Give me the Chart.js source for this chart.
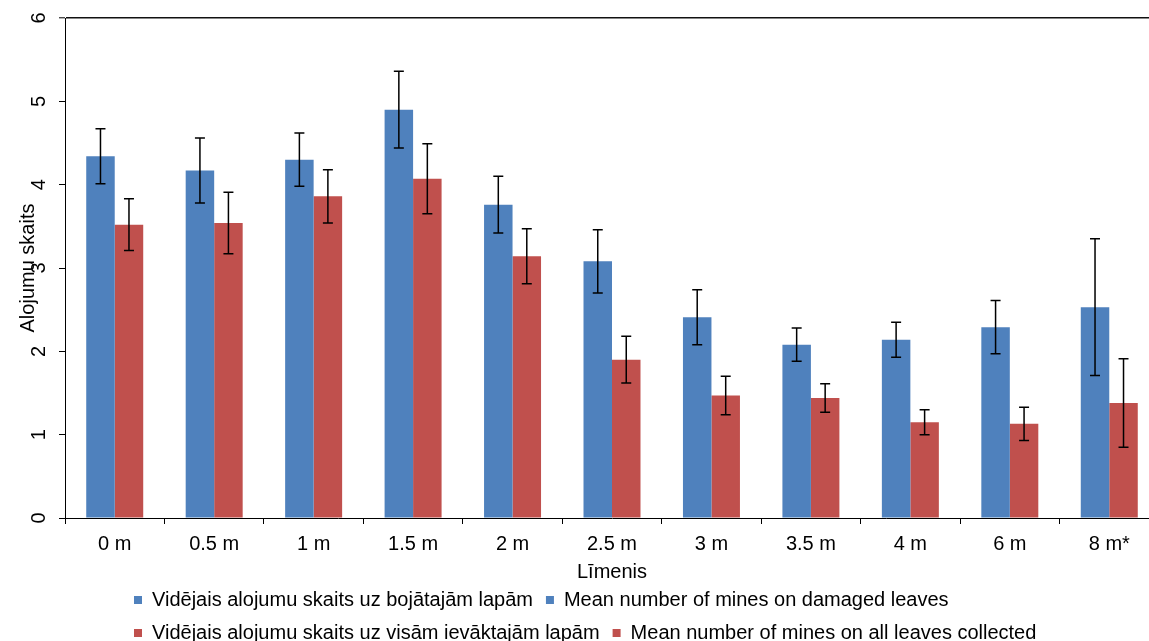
<!DOCTYPE html>
<html><head><meta charset="utf-8">
<script src="https://cdn.jsdelivr.net/npm/chart.js@4.4.1/dist/chart.umd.min.js"></script>
<style>html,body{margin:0;padding:0;background:#fff;overflow:hidden;} #wrap{width:1168px;height:641px;}</style>
</head><body><div id="wrap"><canvas id="c" width="1168" height="641"></canvas></div>
<script>
const categories = ['0 m','0.5 m','1 m','1.5 m','2 m','2.5 m','3 m','3.5 m','4 m','6 m','8 m*'];
const damagedMeans = [4.34,4.17,4.30,4.90,3.76,3.08,2.41,2.08,2.14,2.29,2.53];
const damagedErrors = [0.33,0.39,0.32,0.46,0.34,0.38,0.33,0.20,0.21,0.32,0.82];
const allMeans = [3.52,3.54,3.86,4.07,3.14,1.90,1.47,1.44,1.15,1.13,1.38];
const allErrors = [0.31,0.37,0.32,0.42,0.33,0.28,0.23,0.17,0.15,0.20,0.53];
const seriesLabelsLv = ['Vidējais alojumu skaits uz bojātajām lapām','Vidējais alojumu skaits uz visām ievāktajām lapām'];
const seriesLabelsEn = ['Mean number of mines on damaged leaves','Mean number of mines on all leaves collected'];
const seriesColors = ['#4F81BD','#C0504D'];
const yTicks = [0,1,2,3,4,5,6];
const yTitle = 'Alojumu skaits';
const xTitle = 'Līmenis';

Chart.defaults.font.family = '"Liberation Sans", Arial, sans-serif';
Chart.defaults.color = '#000';

const errorBars = {
  id: 'errorBars',
  afterDatasetsDraw(chart) {
    const ctx = chart.ctx, ys = chart.scales.y;
    ctx.save();
    ctx.strokeStyle = '#000';
    ctx.lineWidth = 1.5;
    chart.data.datasets.forEach((ds, di) => {
      const meta = chart.getDatasetMeta(di);
      meta.data.forEach((bar, i) => {
        const v = ds.data[i], e = ds.errors[i];
        const yt = ys.getPixelForValue(v + e), yb = ys.getPixelForValue(v - e);
        const x = bar.x, hw = 5;
        ctx.beginPath();
        ctx.moveTo(x, yt); ctx.lineTo(x, yb);
        ctx.moveTo(x - hw, yt); ctx.lineTo(x + hw, yt);
        ctx.moveTo(x - hw, yb); ctx.lineTo(x + hw, yb);
        ctx.stroke();
      });
    });
    ctx.restore();
  }
};

const legendPlace = {
  id: 'legendPlace',
  afterLayout(chart) {
    const lg = chart.legend;
    if (!lg) return;
    const w = lg.width, h = lg.height;
    lg.left = 121; lg.right = lg.left + w;
    lg.top = 577; lg.bottom = lg.top + h;
  }
};

new Chart(document.getElementById('c'), {
  type: 'bar',
  data: {
    labels: categories,
    datasets: [
      { label: seriesLabelsLv[0], data: damagedMeans, errors: damagedErrors, backgroundColor: seriesColors[0],
        borderWidth: 0, categoryPercentage: 0.573, barPercentage: 1.0 },
      { label: seriesLabelsLv[1], data: allMeans, errors: allErrors, backgroundColor: seriesColors[1],
        borderWidth: 0, categoryPercentage: 0.573, barPercentage: 1.0 }
    ]
  },
  options: {
    responsive: false,
    animation: false,
    devicePixelRatio: 1,
    layout: { padding: { top: 18, left: 0, right: 9, bottom: 0 } },
    scales: {
      x: {
        grid: { offset: true, drawOnChartArea: false, tickLength: 6, color: '#000', tickColor: '#000', lineWidth: 1 },
        border: { color: '#000', width: 1 },
        ticks: { font: { size: 20 }, color: '#000', padding: 8, maxRotation: 0, autoSkip: false },
        title: { display: true, text: xTitle, font: { size: 20 }, color: '#000', padding: { top: 0, bottom: -19 } },
        afterFit: s => { s.height = 47; s.paddingLeft = 0; s.paddingRight = 0; }
      },
      y: {
        min: 0, max: 6,
        afterBuildTicks: s => { s.ticks = yTicks.map(v => ({ value: v })); },
        grid: {
          color: c => (c.tick && c.tick.value === 6) ? '#111' : 'rgba(0,0,0,0)',
          lineWidth: c => (c.tick && c.tick.value === 6) ? 1.6 : 1,
          tickColor: '#000', tickLength: 6, tickWidth: 1
        },
        border: { color: '#000', width: 1 },
        ticks: { font: { size: 20 }, color: '#000', padding: 14, minRotation: 90, maxRotation: 90, crossAlign: 'center' },
        title: { display: true, text: yTitle, font: { size: 20 }, color: '#000', padding: { top: 16, bottom: 0 } },
        afterFit: s => { s.width = 65; s.paddingTop = 0; s.paddingBottom = 0; }
      }
    },
    plugins: {
      tooltip: { enabled: false },
      legend: {
        position: 'bottom',
        align: 'start',
        labels: {
          boxWidth: 8, boxHeight: 8, padding: 13, font: { size: 20 }, color: '#000',
          generateLabels: chart => {
            const items = [];
            chart.data.datasets.forEach((ds, i) => {
              [seriesLabelsLv[i], seriesLabelsEn[i]].forEach(t => {
                items.push({ text: t, fillStyle: seriesColors[i], strokeStyle: seriesColors[i], lineWidth: 0,
                             datasetIndex: i, hidden: false, fontColor: '#000' });
              });
            });
            return items;
          }
        }
      }
    }
  },
  plugins: [errorBars, legendPlace]
});
</script>
</body></html>
